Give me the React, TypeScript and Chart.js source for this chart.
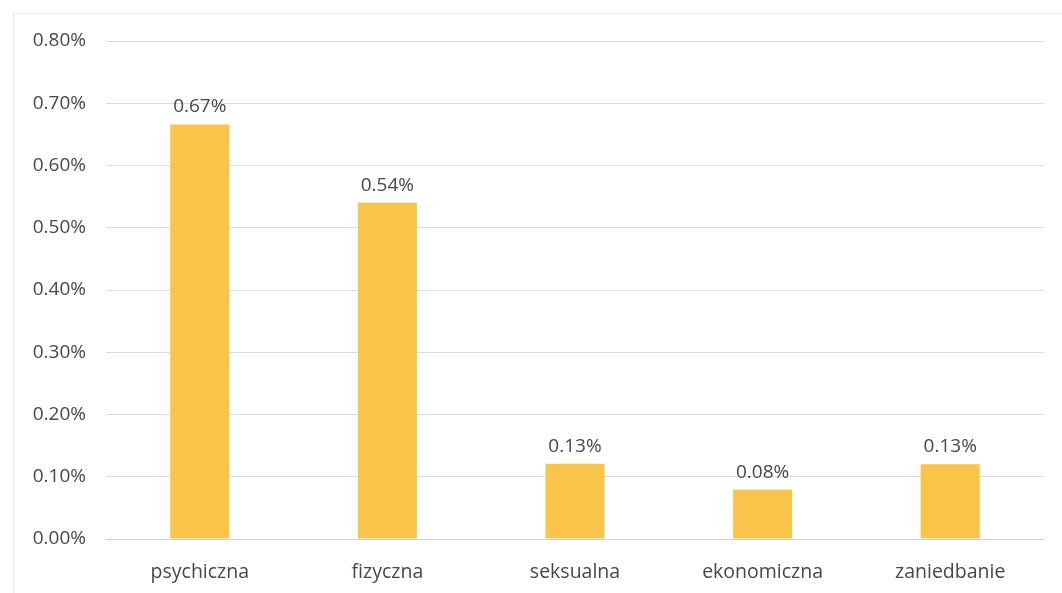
import React, { useEffect, useRef } from "react";
import { Chart, registerables } from "chart.js";

Chart.register(...registerables);

const categories = ["psychiczna", "fizyczna", "seksualna", "ekonomiczna", "zaniedbanie"];
const values = [0.666, 0.54, 0.121, 0.079, 0.12];
const valueLabels = ["0.67%", "0.54%", "0.13%", "0.08%", "0.13%"];
const yTicks = [0, 0.1, 0.2, 0.3, 0.4, 0.5, 0.6, 0.7, 0.8];

const FONT = "'Open Sans', sans-serif";

const labelPlugin = {
  id: "valueLabels",
  afterDatasetsDraw(chart: any) {
    const ctx = chart.ctx;
    const meta = chart.getDatasetMeta(0);
    ctx.save();
    ctx.font = `19px ${FONT}`;
    ctx.fillStyle = "#474747";
    ctx.textAlign = "center";
    ctx.textBaseline = "bottom";
    meta.data.forEach((bar: any, i: number) => {
      ctx.fillText(valueLabels[i], bar.x, bar.y - 8);
    });
    ctx.restore();
  },
};

export default function App() {
  const ref = useRef<HTMLCanvasElement | null>(null);
  useEffect(() => {
    if (!ref.current) return;
    const chart = new Chart(ref.current, {
      type: "bar",
      data: {
        labels: categories,
        datasets: [
          {
            data: values,
            backgroundColor: "#F8C44A",
            barPercentage: 0.315,
            categoryPercentage: 1,
          },
        ],
      },
      options: {
        animation: false,
        responsive: false,
        maintainAspectRatio: false,
        layout: { padding: { top: 41, right: 18, left: 0, bottom: 0 } },
        plugins: { legend: { display: false }, tooltip: { enabled: false } },
        scales: {
          x: {
            grid: { display: false, drawTicks: false },
            border: { display: true, color: "#d0d0d0" },
            ticks: { color: "#474747", font: { size: 19.5, family: FONT }, padding: 22 },
            afterFit(scale: any) {
              scale.height = 54;
            },
          },
          y: {
            min: 0,
            max: 0.8,
            afterBuildTicks(scale: any) {
              scale.ticks = yTicks.map((v) => ({ value: v }));
            },
            grid: { color: "#dcdcdc", drawTicks: false },
            border: { display: false },
            ticks: {
              color: "#474747",
              font: { size: 19, family: FONT },
              padding: 20,
              callback: (v: any) => Number(v).toFixed(2) + "%",
            },
            afterFit(scale: any) {
              scale.width = 106;
            },
          },
        },
      },
      plugins: [labelPlugin],
    });
    return () => chart.destroy();
  }, []);
  return (
    <div style={{ position: "fixed", left: 0, top: 0, width: 1062, height: 593, background: "#fff" }}>
      <div
        style={{
          position: "absolute",
          left: 13,
          top: 13,
          right: 0,
          bottom: 0,
          borderLeft: "1px solid #e6e6e6",
          borderTop: "1px solid #f0f0f0",
        }}
      />
      <canvas ref={ref} width={1062} height={593} style={{ position: "absolute", left: 0, top: 0 }} />
    </div>
  );
}
